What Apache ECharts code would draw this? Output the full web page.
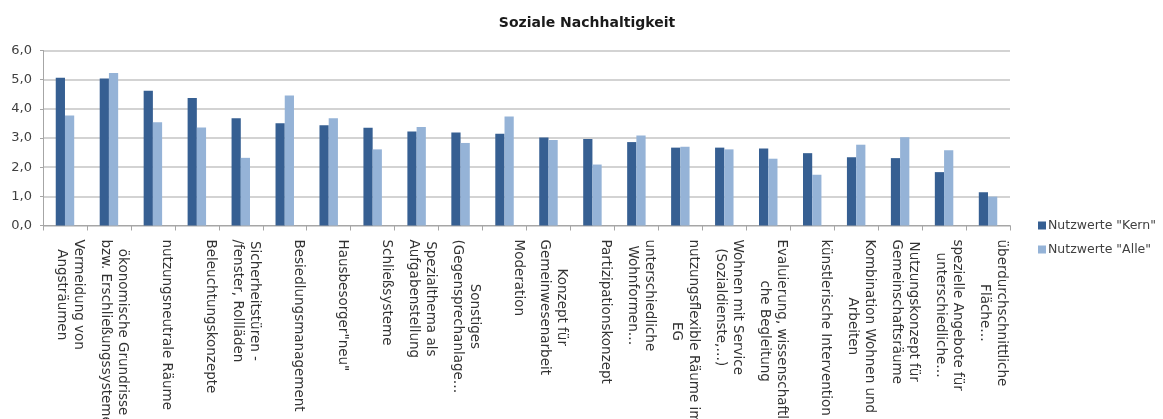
<!DOCTYPE html>
<html>
<head>
<meta charset="utf-8">
<script src="https://cdn.jsdelivr.net/npm/echarts@6/dist/echarts.min.js"></script>
<style>
  html, body { margin: 0; padding: 0; background: #ffffff; }
  #chart { width: 1163px; height: 419px; }
</style>
</head>
<body>
<div id="chart"></div>
<script>
// Maßnahmen (Kategorien), zeilenweise umbrochen
const categories = [
  'Vermeidung von\nAngsträumen',
  'ökonomische Grundrisse\nbzw. Erschließungssysteme',
  'nutzungsneutrale Räume',
  'Beleuchtungskonzepte',
  'Sicherheitstüren -\n/fenster, Rollläden',
  'Besiedlungsmanagement',
  'Hausbesorger"neu"',
  'Schließsysteme',
  'Spezialthema als\nAufgabenstellung',
  'Sonstiges\n(Gegensprechanlage…',
  'Moderation',
  'Konzept für\nGemeinwesenarbeit',
  'Partizipationskonzept',
  'unterschiedliche\nWohnformen…',
  'nutzungsflexible Räume im\nEG',
  'Wohnen mit Service\n(Sozialdienste,…)',
  'Evaluierung, wissenschaftli\nche Begleitung',
  'künstlerische Intervention',
  'Kombination Wohnen und\nArbeiten',
  'Nutzungskonzept für\nGemeinschaftsräume',
  'spezielle Angebote für\nunterschiedliche…',
  'überdurchschnittliche\nFläche…'
];

const seriesNames = ['Nutzwerte "Kern"', 'Nutzwerte "Alle"'];

const kern = [5.07, 5.04, 4.62, 4.37, 3.68, 3.51, 3.44, 3.35, 3.22, 3.19, 3.15,
              3.02, 2.97, 2.86, 2.67, 2.67, 2.64, 2.48, 2.34, 2.31, 1.83, 1.14];
const alle = [3.77, 5.23, 3.54, 3.36, 2.32, 4.46, 3.68, 2.61, 3.38, 2.83, 3.74,
              2.93, 2.09, 3.09, 2.70, 2.61, 2.29, 1.74, 2.77, 3.03, 2.58, 0.99];

const yTicks = [0, 1, 2, 3, 4, 5, 6];

const FONT = 'DejaVu Sans';

// jede Beschriftung als zweizeiliger Block mit zentrierten Zeilen
function wrapLabel(text) {
  const lines = text.split('\n');
  if (lines.length < 2) lines.push(' ');
  return lines.map(l => '{c|' + l + '}').join('\n');
}

const chart = echarts.init(document.getElementById('chart'), null, { renderer: 'canvas' });

chart.setOption({
  animation: false,
  backgroundColor: '#ffffff',
  title: {
    text: 'Soziale Nachhaltigkeit',
    left: 582,
    textAlign: 'center',
    top: 11,
    textStyle: { fontFamily: FONT, fontSize: 14, fontWeight: 'bold', color: '#1a1a1a' }
  },
  legend: {
    orient: 'vertical',
    left: 1033,
    top: 214,
    itemWidth: 8,
    itemHeight: 8,
    itemGap: 11,
    icon: 'rect',
    textStyle: { fontFamily: FONT, fontSize: 12.5, color: '#404040', padding: [0, 0, 0, -3] },
    data: seriesNames
  },
  grid: {
    left: 43, right: 153, top: 50.5, bottom: 193.5,
    containLabel: false,
    outerBoundsMode: 'none'
  },
  xAxis: {
    type: 'category',
    data: categories,
    boundaryGap: true,
    axisLine: { lineStyle: { color: '#a6a6a6', width: 1 } },
    axisTick: { show: true, length: 5, lineStyle: { color: '#a6a6a6' } },
    axisLabel: {
      interval: 0,
      rotate: -90,
      margin: 14,
      padding: [0, 0, 10, 0],
      fontFamily: FONT,
      fontSize: 13.5,
      color: '#333333',
      lineHeight: 17,
      hideOverlap: false,
      formatter: wrapLabel,
      rich: { c: { align: 'center', fontFamily: FONT, fontSize: 13.5, color: '#333333', lineHeight: 17 } }
    }
  },
  yAxis: {
    type: 'value',
    min: yTicks[0],
    max: yTicks[yTicks.length - 1],
    interval: 1,
    axisLine: { show: true, lineStyle: { color: '#a6a6a6' } },
    axisTick: { show: true, length: 3, lineStyle: { color: '#a6a6a6' } },
    splitLine: { lineStyle: { color: '#c4c4c4', width: 1.5 } },
    axisLabel: {
      margin: 11,
      fontFamily: FONT,
      fontSize: 13,
      color: '#404040',
      formatter: v => v.toFixed(1).replace('.', ',')
    }
  },
  series: [
    {
      name: seriesNames[0],
      type: 'bar',
      data: kern,
      barGap: '0%',
      barCategoryGap: '58%',
      itemStyle: { color: '#365f92' }
    },
    {
      name: seriesNames[1],
      type: 'bar',
      data: alle,
      barGap: '0%',
      barCategoryGap: '58%',
      itemStyle: { color: '#95b3d7' }
    }
  ]
});
</script>
</body>
</html>
